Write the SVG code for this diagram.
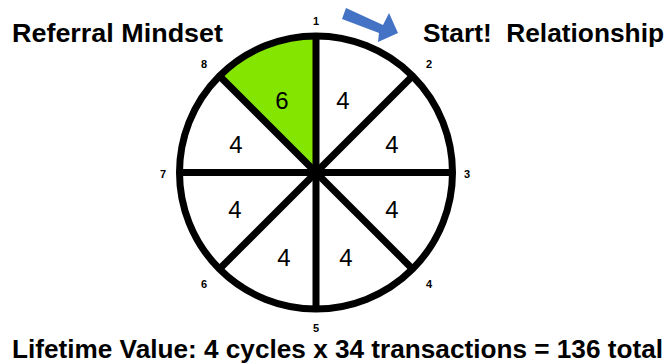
<svg xmlns="http://www.w3.org/2000/svg" width="670" height="364" viewBox="0 0 670 364">
<style>
.title{font-family:"Liberation Sans",Arial,sans-serif;font-weight:bold;font-size:25px;fill:#000}
.pt{font-family:"Liberation Sans",Arial,sans-serif;font-weight:bold;font-size:11px;fill:#000;text-anchor:middle}
.sec{font-family:"Liberation Sans",Arial,sans-serif;font-size:24px;fill:#000;text-anchor:middle}
.line{stroke:#000;stroke-width:7;fill:none}
</style>
<rect width="670" height="364" fill="#fff"/>
<g id="wheel">
  <circle cx="316" cy="172.5" r="136.5" fill="#fff"/>
  <path d="M316,172.5 L316,36 A136.5,136.5 0 0 0 219.5,76 Z" fill="#84E600"/>
</g>
<g id="connectors">
  <line class="line" x1="316" y1="36" x2="316" y2="309"/>
  <line class="line" x1="179.5" y1="172.5" x2="452.5" y2="172.5"/>
  <line class="line" x1="219.5" y1="76" x2="412.5" y2="269"/>
  <line class="line" x1="412.5" y1="76" x2="219.5" y2="269"/>
  <circle class="line" cx="316" cy="172.5" r="136.5"/>
</g>
<g id="sector-1-2"><text class="sec" x="343" y="109">4</text></g>
<g id="sector-2-3"><text class="sec" x="392" y="153">4</text></g>
<g id="sector-3-4"><text class="sec" x="392" y="218">4</text></g>
<g id="sector-4-5"><text class="sec" x="346" y="266">4</text></g>
<g id="sector-5-6"><text class="sec" x="284" y="266">4</text></g>
<g id="sector-6-7"><text class="sec" x="235" y="218">4</text></g>
<g id="sector-7-8"><text class="sec" x="236" y="153">4</text></g>
<g id="sector-8-1"><text class="sec" x="282" y="109">6</text></g>
<g id="points">
  <text class="pt" x="316" y="25">1</text>
  <text class="pt" x="429" y="68">2</text>
  <text class="pt" x="467" y="178">3</text>
  <text class="pt" x="429" y="288">4</text>
  <text class="pt" x="316" y="332">5</text>
  <text class="pt" x="204" y="288">6</text>
  <text class="pt" x="163" y="178">7</text>
  <text class="pt" x="204" y="68">8</text>
</g>
<g id="arrow">
  <polygon points="346,8 383,25 389,13 398,33 378,42 379,33 342,19" fill="#4472C4"/>
</g>
<g id="titles">
  <text class="title" x="12" y="42" textLength="211" lengthAdjust="spacingAndGlyphs">Referral Mindset</text>
  <text class="title" x="423" y="42" textLength="241" lengthAdjust="spacingAndGlyphs" style="white-space:pre">Start!  Relationship</text>
  <text class="title" x="12" y="358" textLength="651" lengthAdjust="spacingAndGlyphs">Lifetime Value: 4 cycles x 34 transactions = 136 total</text>
</g>
</svg>
